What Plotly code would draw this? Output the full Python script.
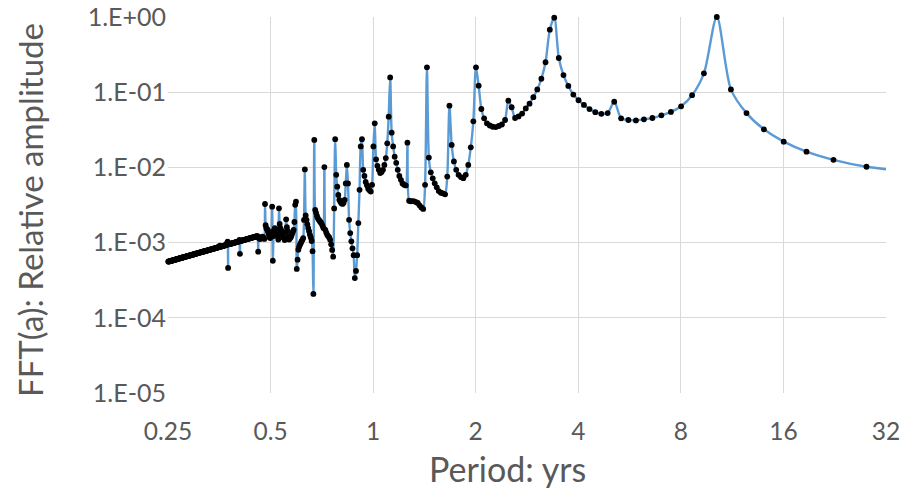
import plotly.graph_objects as go

# FFT record length (years): period of harmonic k is RECORD_YEARS / k
RECORD_YEARS = 112.2

# Relative amplitudes, listed by harmonic k in descending order (left to right on chart)
# k = 449 .. 400
amp_k449_400 = [
    5.57e-4, 5.59e-4, 5.60e-4, 5.62e-4, 5.63e-4, 5.65e-4, 5.67e-4, 5.68e-4, 5.70e-4, 5.72e-4,
    5.73e-4, 5.75e-4, 5.77e-4, 5.79e-4, 5.80e-4, 5.82e-4, 5.84e-4, 5.86e-4, 5.87e-4, 5.89e-4,
    5.91e-4, 5.93e-4, 5.95e-4, 5.96e-4, 5.98e-4, 6.00e-4, 6.02e-4, 6.04e-4, 6.05e-4, 6.07e-4,
    6.09e-4, 6.11e-4, 6.13e-4, 6.15e-4, 6.17e-4, 6.19e-4, 6.21e-4, 6.23e-4, 6.25e-4, 6.27e-4,
    6.29e-4, 6.31e-4, 6.33e-4, 6.35e-4, 6.37e-4, 6.39e-4, 6.41e-4, 6.43e-4, 6.45e-4, 6.47e-4,
]
# k = 399 .. 300
amp_k399_300 = [
    6.49e-4, 6.51e-4, 6.54e-4, 6.56e-4, 6.58e-4, 6.60e-4, 6.62e-4, 6.65e-4, 6.67e-4, 6.69e-4,
    6.71e-4, 6.73e-4, 6.76e-4, 6.78e-4, 6.80e-4, 6.82e-4, 6.85e-4, 6.87e-4, 6.89e-4, 6.91e-4,
    6.93e-4, 6.96e-4, 6.98e-4, 7.01e-4, 7.03e-4, 7.06e-4, 7.08e-4, 7.11e-4, 7.13e-4, 7.16e-4,
    7.19e-4, 7.21e-4, 7.24e-4, 7.26e-4, 7.29e-4, 7.31e-4, 7.34e-4, 7.37e-4, 7.39e-4, 7.42e-4,
    7.45e-4, 7.47e-4, 7.50e-4, 7.53e-4, 7.56e-4, 7.58e-4, 7.61e-4, 7.64e-4, 7.67e-4, 7.69e-4,
    7.72e-4, 7.75e-4, 7.78e-4, 7.81e-4, 7.84e-4, 7.87e-4, 7.90e-4, 7.93e-4, 7.96e-4, 7.99e-4,
    8.02e-4, 8.05e-4, 8.08e-4, 8.11e-4, 8.14e-4, 8.18e-4, 8.21e-4, 8.24e-4, 8.27e-4, 8.30e-4,
    8.33e-4, 8.37e-4, 8.40e-4, 8.43e-4, 8.47e-4, 8.50e-4, 8.54e-4, 8.57e-4, 8.61e-4, 8.64e-4,
    8.68e-4, 8.71e-4, 8.75e-4, 9.10e-4, 8.82e-4, 8.86e-4, 8.89e-4, 8.93e-4, 8.96e-4, 9.00e-4,
    9.04e-4, 9.08e-4, 9.12e-4, 9.16e-4, 9.20e-4, 9.23e-4, 9.27e-4, 9.31e-4, 9.80e-4, 1.03e-3,
]
# k = 299 .. 245
amp_k299_245 = [
    4.60e-4,
    9.48e-4, 9.52e-4, 9.56e-4, 9.60e-4, 9.65e-4, 9.69e-4, 9.73e-4, 9.78e-4, 9.82e-4,
    9.86e-4, 9.91e-4, 9.95e-4, 1.000e-3, 1.004e-3, 1.009e-3, 1.013e-3, 1.018e-3, 1.022e-3, 1.027e-3,
    1.032e-3, 1.037e-3, 1.090e-3, 7.10e-4, 1.051e-3, 1.056e-3, 1.061e-3, 1.066e-3, 1.072e-3, 1.077e-3,
    1.082e-3, 1.087e-3, 1.093e-3, 1.098e-3, 1.103e-3, 1.109e-3, 1.114e-3, 1.120e-3, 1.125e-3, 1.131e-3,
    1.137e-3, 1.143e-3, 1.148e-3, 1.154e-3, 1.160e-3, 1.166e-3, 1.172e-3, 1.178e-3, 1.184e-3, 1.190e-3,
    1.196e-3, 1.202e-3, 1.208e-3, 1.215e-3, 1.221e-3,
]
# k = 244 .. 200
amp_k244_200 = [
    7.57e-4,
    1.15e-3, 1.13e-3, 1.12e-3, 1.13e-3, 1.15e-3, 1.18e-3, 1.20e-3, 1.18e-3, 1.15e-3,
    1.12e-3, 3.26e-3,
    1.70e-3, 1.56e-3, 1.52e-3, 1.47e-3, 1.38e-3, 1.27e-3, 1.18e-3, 1.15e-3, 1.22e-3, 1.38e-3,
    3.00e-3, 5.74e-4,
    1.22e-3, 1.47e-3, 1.56e-3, 1.52e-3, 1.43e-3, 1.34e-3, 1.22e-3, 1.10e-3,
    2.86e-3,
    1.77e-3, 1.56e-3, 1.47e-3, 1.38e-3, 1.26e-3, 1.18e-3, 1.15e-3, 1.08e-3, 1.38e-3,
    2.04e-3, 1.60e-3, 1.43e-3,
]
# k = 199 .. 150
amp_k199_150 = [
    1.20e-3, 1.10e-3, 1.13e-3, 1.17e-3, 1.22e-3, 1.31e-3, 1.39e-3, 1.48e-3, 1.88e-3, 3.18e-3,
    3.50e-3, 4.46e-4, 5.92e-4, 8.04e-4, 8.80e-4, 9.36e-4, 9.80e-4, 1.04e-3, 1.09e-3, 1.15e-3,
    2.00e-3, 9.40e-3, 2.30e-3, 2.00e-3, 1.75e-3, 1.56e-3, 1.42e-3, 1.27e-3, 1.17e-3, 1.05e-3,
    7.70e-4, 2.08e-4, 2.32e-2, 2.73e-3, 2.49e-3, 2.26e-3, 2.10e-3, 2.01e-3, 1.94e-3, 1.87e-3,
    1.79e-3, 1.68e-3, 1.56e-3, 1.01e-2, 1.48e-3, 1.36e-3, 1.27e-3, 1.22e-3, 1.17e-3, 1.09e-3,
]
# k = 149 .. 100
amp_k149_100 = [
    9.50e-4, 8.00e-4, 6.50e-4, 2.85e-3, 2.37e-2, 7.97e-3, 5.54e-3, 4.30e-3, 3.71e-3, 3.50e-3,
    3.34e-3, 3.27e-3, 3.40e-3, 3.71e-3, 6.13e-3, 1.08e-2, 6.13e-3, 2.01e-3, 1.34e-3, 1.04e-3,
    8.40e-4, 6.80e-4, 3.37e-4, 4.20e-4, 6.80e-4, 1.82e-3, 5.03e-3, 1.90e-2, 2.37e-2, 9.28e-3,
    7.70e-3, 6.40e-3, 5.80e-3, 5.20e-3, 4.95e-3, 4.77e-3, 5.86e-3, 1.90e-2, 3.86e-2, 1.28e-2,
    1.05e-2, 9.28e-3, 8.40e-3, 8.70e-3, 9.28e-3, 1.08e-2, 1.33e-2, 2.09e-2, 4.73e-2, 1.57e-1,
]
# k = 99 .. 57
amp_k99_57 = [
    2.90e-2, 1.90e-2, 1.39e-2, 1.15e-2, 9.28e-3, 7.70e-3, 6.84e-3, 6.13e-3, 5.86e-3, 5.75e-3,
    2.13e-2, 3.60e-3, 3.54e-3, 3.56e-3, 3.54e-3, 3.46e-3, 3.36e-3, 3.13e-3, 2.93e-3, 2.80e-3,
    5.86e-3, 2.14e-1, 1.35e-2, 8.60e-3, 7.16e-3, 6.14e-3, 5.44e-3, 4.85e-3, 4.60e-3, 4.52e-3,
    4.39e-3, 7.55e-3, 6.62e-2, 1.99e-2, 1.20e-2, 9.28e-3, 7.97e-3, 7.43e-3, 7.20e-3, 7.97e-3,
    1.08e-2, 1.85e-2, 4.10e-2,
]
# k = 56 .. 3
amp_k56_3 = [
    0.214, 0.122, 0.0598, 0.0450, 0.0386, 0.0361, 0.0347, 0.0344, 0.0355, 0.0372,
    0.0427, 0.0772, 0.0631, 0.0454, 0.0476, 0.0520, 0.0608, 0.0704, 0.0858, 0.109,
    0.151, 0.250, 0.678, 0.980, 0.285, 0.169, 0.121, 0.0930, 0.0782, 0.0677,
    0.0597, 0.0542, 0.0515, 0.0527, 0.0747, 0.0450, 0.0427, 0.0422, 0.0436, 0.0454,
    0.0492, 0.0547, 0.0649, 0.0912, 0.178, 1.000, 0.109, 0.0527, 0.0321, 0.0220,
    0.0162, 0.0126, 0.0102, 0.0088,
]

segments = [
    (449, amp_k449_400), (399, amp_k399_300), (299, amp_k299_245), (244, amp_k244_200),
    (199, amp_k199_150), (149, amp_k149_100), (99, amp_k99_57), (56, amp_k56_3),
]
harmonics, amplitudes = [], []
for k_start, vals in segments:
    for i, v in enumerate(vals):
        harmonics.append(k_start - i)
        amplitudes.append(v)
periods = [RECORD_YEARS / k for k in harmonics]

x_tick_vals = [0.25, 0.5, 1, 2, 4, 8, 16, 32]
x_tick_text = ["0.25", "0.5", "1", "2", "4", "8", "16", "32"]
y_tick_vals = [1, 1e-1, 1e-2, 1e-3, 1e-4, 1e-5]
y_tick_text = ["1.E+00", "1.E-01", "1.E-02", "1.E-03", "1.E-04", "1.E-05"]
x_title = "Period: yrs"
y_title = "FFT(a): Relative amplitude"

FONT = "Lato"
TXT = "#595959"
GRID = "#D9D9D9"

fig = go.Figure()
fig.add_trace(go.Scatter(
    x=periods, y=amplitudes, mode="lines+markers",
    line=dict(color="#5B9BD5", width=2.4, shape="spline", smoothing=0.8),
    marker=dict(color="black", size=5.8),
    cliponaxis=False, showlegend=False,
))

fig.update_layout(
    width=904, height=492,
    margin=dict(l=168, r=18, t=17, b=99),
    paper_bgcolor="white", plot_bgcolor="white",
    font=dict(family=FONT, color=TXT),
    annotations=[
        dict(text=x_title, xref="paper", yref="paper", x=0.4735, y=-0.1995,
             xanchor="center", yanchor="middle", showarrow=False,
             font=dict(size=34, color=TXT, family=FONT)),
        dict(text=y_title, xref="paper", yref="paper", x=-0.192, y=0.487,
             xanchor="center", yanchor="middle", showarrow=False, textangle=-90,
             font=dict(size=33, color=TXT, family=FONT)),
    ],
)
fig.update_xaxes(
    type="log", range=[-0.60206, 1.50515], automargin=False,
    tickvals=x_tick_vals, ticktext=x_tick_text,
    tickfont=dict(size=24.5, color=TXT, family=FONT),
    showgrid=True, gridcolor=GRID, gridwidth=1.3,
    zeroline=False, showline=False, ticks="",
    ticklabelstandoff=21,
)
fig.update_yaxes(
    type="log", range=[-5, 0], automargin=False,
    tickvals=y_tick_vals, ticktext=y_tick_text,
    tickfont=dict(size=25, color=TXT, family=FONT),
    showgrid=True, gridcolor=GRID, gridwidth=1.3,
    zeroline=False, showline=False, ticks="",
    ticklabelstandoff=1,
)

fig.write_html("out.html")
